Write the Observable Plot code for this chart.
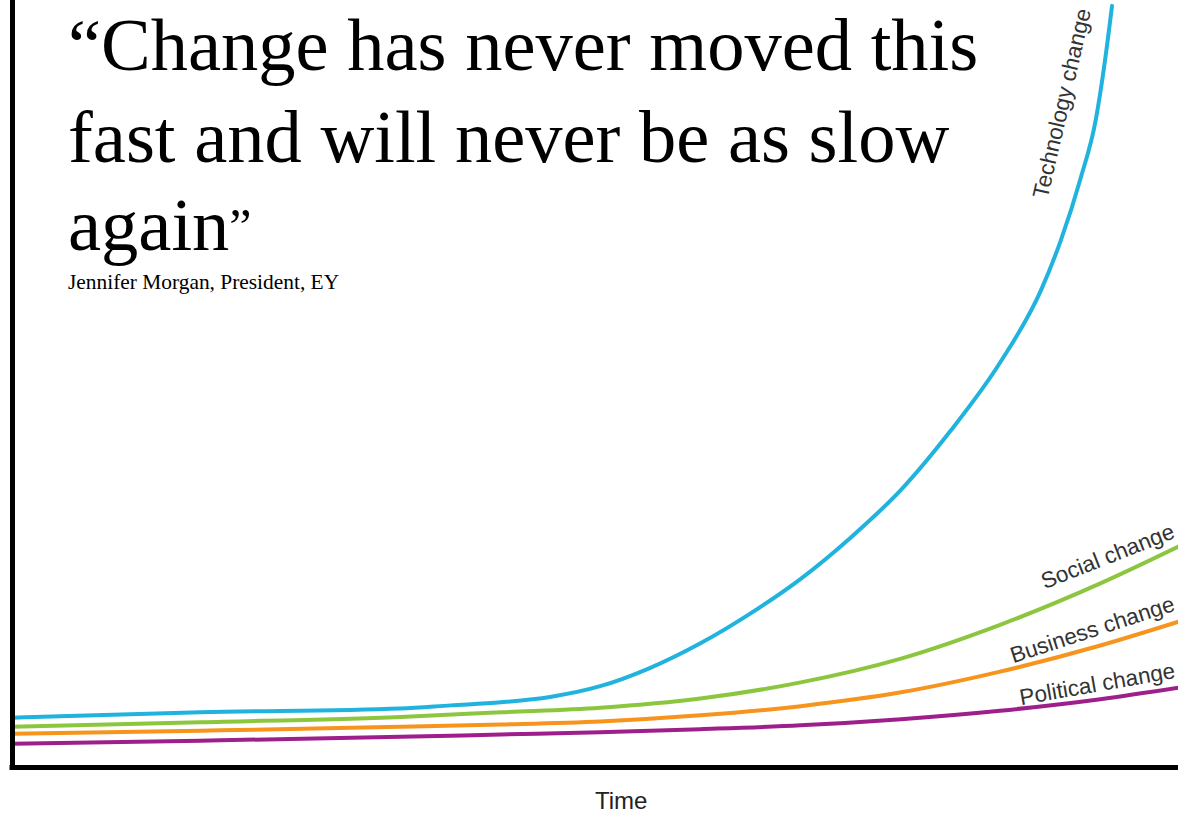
<!DOCTYPE html>
<html><head><meta charset="utf-8">
<script src="https://cdn.jsdelivr.net/npm/d3@7"></script>
<script src="https://cdn.jsdelivr.net/npm/@observablehq/plot@0.6"></script>
<style>
html,body{margin:0;padding:0;background:#fff;}
#wrap{position:relative;width:1178px;height:813px;overflow:hidden;}
#chart{position:absolute;left:0;top:0;}
.q{position:absolute;left:68px;font-family:"Liberation Serif","Times New Roman",serif;font-size:74.5px;line-height:75px;color:#000;white-space:nowrap;}
.attr{position:absolute;left:68px;font-family:"Liberation Serif","Times New Roman",serif;font-size:21.4px;line-height:21px;color:#000;white-space:nowrap;}
</style></head><body>
<div id="wrap">
<div id="chart"></div>
<div class="q" style="top:8px">“Change has never moved this</div>
<div class="q" style="top:100px">fast and will never be as slow</div>
<div class="q" style="top:188px">again<span style="font-size:50px;position:relative;top:-7px">”</span></div>
<div class="attr" style="top:272px">Jennifer Morgan, President, EY</div>
</div>
<script>
// Series names and colours
const seriesNames = ["Technology change", "Social change", "Business change", "Political change"];
const seriesColors = ["#1fb3de", "#8cc63f", "#f7941d", "#9e1f8c"];

// Technology change (time 0–100, change 0–100)
const techTime   = [0, 16.1, 33.3, 37.6, 41.9, 46.1, 50.4, 54.7, 59.0, 63.3, 67.6, 71.9, 76.2, 80.4, 84.7, 88.2, 89.9, 91.6, 92.9, 93.7, 94.3];
const techChange = [6.5, 7.2, 7.7, 8.1, 8.5, 9.2, 10.6, 13.0, 16.2, 20.1, 24.6, 30.0, 36.2, 43.8, 52.8, 62.2, 68.7, 76.8, 84.4, 92.2, 99.3];

// Other series share these time points
const otherTime       = [0, 16.1, 33.3, 41.9, 50.4, 59.0, 67.6, 76.2, 84.7, 93.3, 100];
const socialChange    = [5.3, 5.9, 6.6, 7.2, 7.8, 9.0, 11.1, 14.2, 18.6, 24.0, 28.8];
const businessChange  = [4.4, 4.8, 5.3, 5.6, 6.0, 6.8, 8.0, 9.8, 12.5, 15.9, 19.0];
const politicalChange = [3.1, 3.5, 4.0, 4.3, 4.6, 5.0, 5.5, 6.3, 7.4, 8.9, 10.4];

// Label placement (end of each label, in data units) and angle
const labelTime   = [92.5, 99.8, 99.8, 99.8];
const labelChange = [98.7, 30.0, 20.5, 11.7];
const labelAngle  = [-77, -21.5, -18, -10];

const xLabel = "Time";
const xLabelTime = 52.2;

const rows = [];
techTime.forEach((t, i) => rows.push({series: seriesNames[0], time: t, change: techChange[i]}));
[socialChange, businessChange, politicalChange].forEach((arr, k) => {
  otherTime.forEach((t, i) => rows.push({series: seriesNames[k + 1], time: t, change: arr[i]}));
});
const labels = seriesNames.map((s, i) => ({text: s, time: labelTime[i], change: labelChange[i], angle: labelAngle[i]}));

const chart = Plot.plot({
  width: 1178,
  height: 813,
  marginLeft: 12,
  marginRight: 0,
  marginTop: 0,
  marginBottom: 46,
  x: {domain: [0, 100], axis: null},
  y: {domain: [0, 100], axis: null},
  color: {domain: seriesNames, range: seriesColors},
  style: {background: "#fff"},
  marks: [
    Plot.line(rows, {x: "time", y: "change", z: "series", stroke: "series", strokeWidth: 4, curve: "monotone-x"}),
    Plot.text(labels, {x: "time", y: "change", text: "text", rotate: "angle", textAnchor: "end", lineAnchor: "bottom",
      fontSize: 22.5, fill: "#333", fontFamily: "Liberation Sans, Arial, sans-serif"}),
    Plot.ruleX([0], {stroke: "#000", strokeWidth: 5, strokeLinecap: "square"}),
    Plot.ruleY([0], {stroke: "#000", strokeWidth: 5, strokeLinecap: "square"}),
    Plot.text([{label: xLabel, time: xLabelTime}], {x: "time", text: "label", frameAnchor: "bottom", lineAnchor: "bottom", dy: 41,
      fontSize: 24, fill: "#222", fontFamily: "Liberation Sans, Arial, sans-serif"})
  ]
});
document.getElementById("chart").appendChild(chart);
</script>
</body></html>
